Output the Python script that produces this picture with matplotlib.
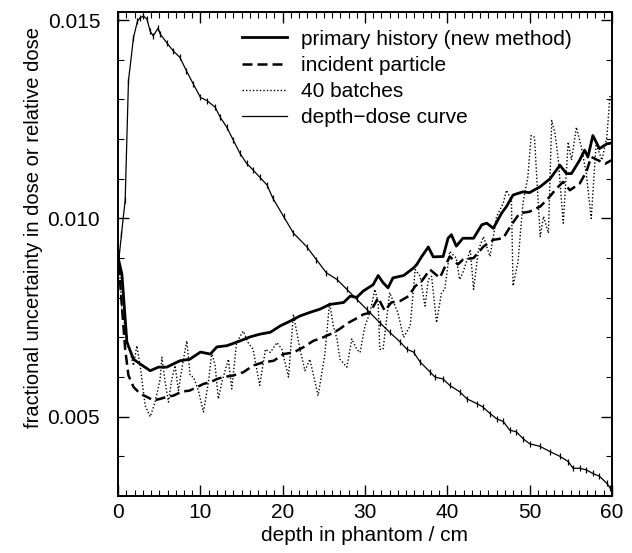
import matplotlib
matplotlib.use("Agg")
import matplotlib.pyplot as plt
from matplotlib.ticker import MultipleLocator, FormatStrFormatter

plt.rcParams['font.family'] = ['Liberation Sans', 'DejaVu Sans']

# depth-dose curve (relative dose)
dd_depth = [0.0, 0.4, 0.85, 1.25, 1.86, 2.34, 2.67, 3.07, 3.49, 3.89,
            4.25, 4.86, 5.1, 5.9, 6.7, 7.5, 8.3, 9.1, 10.0, 10.8,
            11.8, 12.4, 13.2, 14.0, 14.8, 15.6, 16.4, 17.2, 18.1, 18.8,
            20.1, 21.3, 22.9, 24.1, 25.3, 26.6, 27.8, 29.0, 30.2, 31.8,
            33.0, 34.3, 35.1, 35.9, 36.7, 37.9, 38.5, 39.5, 40.3, 41.5,
            42.4, 43.6, 44.3, 45.2, 46.0, 46.8, 47.6, 48.4, 49.2, 50.0,
            51.3, 52.5, 53.7, 54.7, 55.3, 56.1, 56.9, 57.7, 58.5, 59.4, 59.8]
dd_val = [0.0088, 0.0096, 0.01046, 0.01347, 0.01456, 0.01497, 0.01506, 0.0151, 0.01503, 0.01472,
          0.0146, 0.0148, 0.01465, 0.01443, 0.01422, 0.01406, 0.01372, 0.0134, 0.01305, 0.01297,
          0.0128, 0.01255, 0.0123, 0.01197, 0.01164, 0.01139, 0.01122, 0.01104, 0.01084, 0.01051,
          0.01005, 0.00963, 0.00929, 0.00896, 0.00863, 0.00846, 0.00821, 0.00796, 0.00771, 0.00737,
          0.00713, 0.00688, 0.0067, 0.00663, 0.00638, 0.00613, 0.006, 0.00595, 0.00579, 0.00563,
          0.00545, 0.00533, 0.00525, 0.00508, 0.00495, 0.00488, 0.00466, 0.00462, 0.00445, 0.00432,
          0.00425, 0.00412, 0.004, 0.00387, 0.0037, 0.0037, 0.00366, 0.00357, 0.0035, 0.00332, 0.0032]

# primary history (new method)
ph_depth = [0.0, 0.45, 1.06, 1.86, 2.67, 3.89, 4.9, 5.9, 7.5, 8.7,
            10.0, 11.2, 12.0, 13.2, 14.8, 16.0, 17.2, 18.5, 19.7, 20.9,
            22.1, 23.3, 24.5, 25.7, 27.4, 28.2, 29.0, 29.8, 31.0, 31.6,
            32.2, 32.8, 33.4, 34.7, 35.9, 36.3, 36.9, 37.7, 38.3, 39.5,
            40.1, 40.5, 41.1, 41.9, 43.2, 44.2, 44.8, 45.6, 46.6, 47.2,
            48.0, 49.2, 50.0, 51.3, 52.5, 53.7, 54.5, 55.1, 56.1, 56.7,
            57.1, 57.7, 58.5, 59.4, 60.0]
ph_val = [0.0090, 0.0086, 0.00688, 0.00645, 0.00633, 0.00616, 0.00625, 0.00625, 0.00641, 0.00645,
          0.00663, 0.00658, 0.00676, 0.00679, 0.00691, 0.00701, 0.00708, 0.00713, 0.00729, 0.00741,
          0.00754, 0.00763, 0.00771, 0.00783, 0.00788, 0.00804, 0.00801, 0.00817, 0.00833, 0.00856,
          0.00838, 0.00825, 0.0085, 0.00856, 0.00875, 0.00884, 0.00904, 0.00928, 0.00903, 0.00904,
          0.0095, 0.00959, 0.0093, 0.0095, 0.0095, 0.00984, 0.00988, 0.00975, 0.01013, 0.0103,
          0.01059, 0.01067, 0.01065, 0.0108, 0.011, 0.01134, 0.01113, 0.01113, 0.01147, 0.01172,
          0.01155, 0.01209, 0.01176, 0.01188, 0.0119]

# incident particle
ip_depth = [0.0, 0.3, 0.85, 1.25, 1.86, 2.67, 3.49, 4.29, 5.1, 5.9,
            6.7, 7.7, 8.7, 9.6, 10.4, 11.2, 12.0, 12.8, 14.0, 15.2,
            16.4, 17.6, 18.9, 20.1, 21.3, 22.5, 23.7, 24.9, 26.2, 26.9,
            28.0, 28.8, 29.8, 30.6, 31.6, 32.4, 33.2, 34.3, 35.3, 36.1,
            36.9, 37.9, 39.1, 40.3, 41.3, 41.9, 43.2, 44.4, 45.6, 46.8,
            47.8, 48.8, 50.0, 51.3, 52.3, 53.3, 54.1, 54.9, 56.1, 56.9,
            57.5, 58.3, 59.2, 60.0]
ip_val = [0.0092, 0.0082, 0.0067, 0.00604, 0.00575, 0.00558, 0.0055, 0.00541, 0.00545, 0.0055,
          0.00553, 0.00563, 0.00566, 0.00575, 0.00583, 0.00587, 0.00595, 0.006, 0.00604, 0.00612,
          0.00629, 0.00637, 0.00641, 0.00658, 0.00662, 0.00675, 0.00691, 0.0070, 0.00712, 0.00721,
          0.00737, 0.00746, 0.00758, 0.00762, 0.008, 0.00767, 0.00788, 0.00792, 0.00804, 0.00829,
          0.00842, 0.00871, 0.0085, 0.00904, 0.00884, 0.00896, 0.009, 0.00929, 0.00946, 0.0095,
          0.00984, 0.01013, 0.01017, 0.0103, 0.01051, 0.01076, 0.01092, 0.01071, 0.01088, 0.01117,
          0.01155, 0.01147, 0.01138, 0.01147]

# 40 batches
b40_depth = [0.0, 0.45, 1.06, 1.86, 2.27, 2.67, 3.28, 3.89, 4.49, 5.10,
             5.31, 5.71, 6.11, 6.52, 6.92, 7.32, 7.93, 8.34, 8.75, 9.15,
             9.75, 10.36, 10.97, 11.38, 11.78, 12.18, 12.6, 13.4, 13.8, 14.4,
             15.2, 15.8, 16.4, 17.2, 17.9, 18.5, 19.3, 19.9, 20.7, 21.3,
             22.1, 22.7, 23.3, 24.3, 25.1, 25.7, 26.15, 26.6, 26.96, 27.8,
             28.4, 29.0, 29.4, 30.0, 30.6, 31.2, 31.6, 31.8, 32.2, 33.0,
             34.0, 34.7, 35.5, 36.1, 36.7, 37.3, 37.7, 38.1, 38.7, 39.3,
             39.7, 40.3, 41.1, 41.5, 41.9, 42.8, 43.2, 43.8, 44.4, 45.2,
             46.0, 46.8, 47.2, 47.8, 48.0, 48.6, 49.2, 49.8, 50.2, 50.6,
             51.3, 51.7, 52.3, 52.7, 53.1, 53.5, 54.1, 54.7, 55.1, 55.7,
             56.3, 56.9, 57.5, 58.1, 58.8, 59.4, 59.8]
b40_val = [0.0093, 0.00771, 0.00696, 0.00629, 0.00679, 0.00629, 0.00528, 0.005, 0.00537, 0.00595,
           0.0065, 0.00587, 0.00537, 0.00595, 0.00629, 0.00566, 0.00645, 0.00691, 0.00604, 0.006,
           0.00566, 0.00512, 0.00587, 0.00662, 0.00629, 0.00545, 0.00587, 0.00645, 0.0057, 0.00687,
           0.00716, 0.00687, 0.0067, 0.00579, 0.0067, 0.00662, 0.00687, 0.0067, 0.006, 0.00758,
           0.0067, 0.00616, 0.00645, 0.00553, 0.00654, 0.00788, 0.00729, 0.00696, 0.00645, 0.00625,
           0.00696, 0.0067, 0.00662, 0.00729, 0.00762, 0.00821, 0.00788, 0.0067, 0.0067, 0.00813,
           0.00762, 0.0070, 0.00729, 0.00871, 0.00854, 0.00779, 0.00846, 0.00854, 0.00737, 0.00813,
           0.00821, 0.00917, 0.009, 0.00846, 0.00863, 0.00921, 0.00821, 0.00921, 0.00954, 0.00904,
           0.01005, 0.01038, 0.01071, 0.01046, 0.0083, 0.0089, 0.01038, 0.01105, 0.01209, 0.01205,
           0.00954, 0.01005, 0.00963, 0.01247, 0.01214, 0.01147, 0.00988, 0.01193, 0.01147, 0.0123,
           0.0118, 0.01113, 0.010, 0.01188, 0.01147, 0.01205, 0.01314]

fig = plt.figure(figsize=(6.32, 5.53), dpi=100)
ax = fig.add_axes([0.187, 0.103, 0.781, 0.875])

ax.plot(ph_depth, ph_val, color='black', lw=2.0, label='primary history (new method)')
ax.plot(ip_depth, ip_val, color='black', lw=1.8, dashes=(4, 2), label='incident particle')
ax.plot(b40_depth, b40_val, color='black', lw=1.0, dashes=(1, 1.5), label='40 batches')
ax.plot(dd_depth, dd_val, color='black', lw=0.9, marker='|', ms=4.5, mew=0.9,
        label='depth\u2212dose curve')

ax.set_xlim(0, 60)
ax.set_ylim(0.003, 0.0152)
ax.xaxis.set_major_locator(MultipleLocator(10))
ax.xaxis.set_minor_locator(MultipleLocator(1))
ax.yaxis.set_major_locator(MultipleLocator(0.005))
ax.yaxis.set_minor_locator(MultipleLocator(0.001))
ax.yaxis.set_major_formatter(FormatStrFormatter('%.3f'))
ax.tick_params(which='both', direction='in', top=True, right=True, labelsize=15)
ax.tick_params(axis='x', pad=5)
ax.tick_params(axis='y', pad=13)
ax.tick_params(which='major', length=8, width=1.0)
ax.tick_params(which='minor', length=4, width=0.8)
for s in ax.spines.values():
    s.set_linewidth(1.4)

ax.set_xlabel('depth in phantom / cm', fontsize=15, labelpad=3)
ax.set_ylabel('fractional uncertainty in dose or relative dose', fontsize=14.5)
ax.yaxis.set_label_coords(-0.152, 0.554)

leg = ax.legend(loc='upper left', frameon=False, fontsize=15, handlelength=2.2,
                handletextpad=0.65, labelspacing=0.35, borderaxespad=0.0, borderpad=0.0,
                bbox_to_anchor=(0.250, 0.964))
for h in leg.legend_handles:
    h.set_marker('')

fig.savefig('out.png', dpi=100)
